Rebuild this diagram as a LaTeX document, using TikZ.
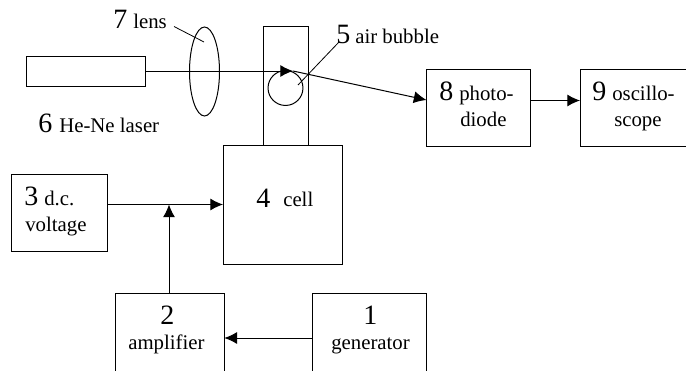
\documentclass[tikz,border=0pt]{standalone}
\usepackage{fontspec}
\setmainfont{Liberation Serif}
\usetikzlibrary{arrows.meta}

\newcommand{\numfont}{\fontsize{21}{21}\selectfont}
\newcommand{\txtfont}{\fontsize{15.6}{19}\selectfont}

\tikzset{
	box/.style={draw, line width=0.75pt, inner sep=0pt, outer sep=0pt, anchor=north west},
	ray/.style={line width=0.75pt},
	tip/.style={ray, arrows={-{Latex[length=9.5pt, width=9pt]}}},
	lab/.style={inner sep=0pt, anchor=base west, font=\txtfont},
	digit/.style={inner sep=0pt, anchor=base west, font=\numfont}
}

\begin{document}
\begin{tikzpicture}[x=0.75pt, y=-0.75pt]
	\useasboundingbox (0, 0) rectangle (686, 371);

	\node [box, minimum width=89.25pt, minimum height=22.5pt] (laser) at (26, 56) {};
	\node [box, minimum width=33.75pt, minimum height=89.25pt] (tube) at (263, 26) {};
	\node [box, minimum width=89.25pt, minimum height=89.25pt] (cell) at (223, 145) {};
	\node [box, minimum width=72.4pt, minimum height=58pt] (voltage) at (11, 174.5) {};
	\node [box, minimum width=82pt, minimum height=60pt] (amplifier) at (115, 293) {};
	\node [box, minimum width=85.5pt, minimum height=60pt] (generator) at (312.5, 293) {};
	\node [box, minimum width=78pt, minimum height=57.5pt] (photodiode) at (426.5, 69.5) {};
	\node [box, minimum width=81pt, minimum height=57.5pt] (scope) at (580, 69.5) {};

	\draw [ray] (204.5, 71.5) ellipse (15 and 44.5);
	\node [draw, circle, line width=0.75pt, minimum size=26.2pt, inner sep=0pt] (bubble) at (285.5, 88) {};

	\coordinate (focus) at (293, 71);
	\coordinate (mid) at (169, 204.5);
	\coordinate (lenstop) at (204, 42);
	\coordinate (lensend) at (174, 26.5);
	\coordinate (bubbleend) at (339, 42);
	\coordinate (bubblein) at (298, 85);

	\draw [tip] (laser.east) -- (focus);
	\draw [tip] (focus) -- (426.5, 100);
	\draw [tip] (530.5, 100.5) -- (580, 100.5);
	\draw [tip] (voltage.east |- mid) -- (mid -| cell.west);
	\draw [tip] (mid |- amplifier.north) -- (mid);
	\draw [tip] (generator.west |- 0, 338) -- (amplifier.east |- 0, 338);
	\draw [line width=0.6pt] (lensend) -- (lenstop);
	\draw [line width=0.6pt] (bubblein) -- (bubbleend);

	\node [digit] (n7) at (113, 28) {7};
	\node [lab] (t7) at (133, 28) {lens};
	\node [digit] (n5) at (336, 43) {5};
	\node [lab] (t5) at (355, 43) {air bubble};
	\node [digit] (n6) at (38, 132) {6};
	\node [lab] (t6) at (59, 132) {He-Ne laser};
	\node [digit] (n8) at (439, 100) {8};
	\node [lab] (t8) at (459, 100) {photo-};
	\node [lab] (t8b) at (460, 126) {diode};
	\node [digit] (n9) at (592, 100) {9};
	\node [lab] (t9) at (612, 100) {oscillo-};
	\node [lab] (t9b) at (614, 126) {scope};
	\node [digit] (n3) at (24, 205) {3};
	\node [lab] (t3) at (44, 205) {d.c.};
	\node [lab] (t3b) at (25, 231) {voltage};
	\node [digit] (n4) at (256, 207) {4};
	\node [lab] (t4) at (283, 206) {cell};
	\node [digit] (n2) at (160, 324) {2};
	\node [lab] (t2) at (128, 349) {amplifier};
	\node [digit] (n1) at (363, 324) {1};
	\node [lab] (t1) at (331, 349) {generator};
\end{tikzpicture}
\end{document}
